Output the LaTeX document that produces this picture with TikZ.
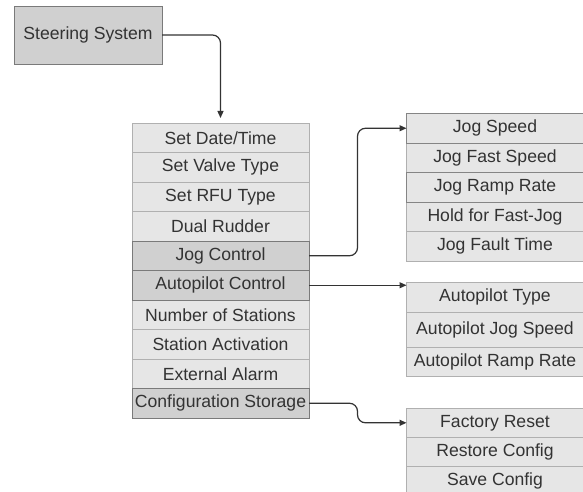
\documentclass[tikz,border=0pt]{standalone}
\usepackage{fontspec}
\setmainfont{Liberation Sans}
\usetikzlibrary{arrows.meta}
\definecolor{lightfill}{HTML}{E6E6E6}
\definecolor{darkfill}{HTML}{D0D0D0}
\definecolor{lightline}{HTML}{B0B0B0}
\definecolor{darkline}{HTML}{7A7A7A}
\definecolor{txt}{HTML}{333333}
\definecolor{arr}{HTML}{333333}
\begin{document}
\begin{tikzpicture}[x=1pt,y=-1pt,
  every node/.style={inner sep=0pt, outer sep=0pt, font=\fontsize{17.6}{20}\selectfont, text=txt},
  cell/.style={draw=lightline, fill=lightfill, line width=0.9pt, minimum width=177pt, minimum height=#1},
  cell/.default=29.5pt,
  darkcell/.style={cell=#1, draw=darkline, fill=darkfill},
  darkcell/.default=29.5pt,
  link/.style={draw=arr, line width=1.2pt, rounded corners=8pt, -{Triangle[length=7pt,width=6pt]}}
]
\useasboundingbox (0,0) rectangle (583,492);
\clip (0,0) rectangle (583,492);
\fill[white] (0,0) rectangle (583,492);

% top box
\node[darkcell=58pt, minimum width=148pt] (steer) at (88,35) {Steering System};

% main column
\node[cell] (m1) at (220.5,137.75) {Set Date/Time};
\node[cell] (m2) at (220.5,167.25) {Set Valve Type};
\node[cell] (m3) at (220.5,196.75) {Set RFU Type};
\node[cell] (m4) at (220.5,226.25) {Dual Rudder};
\node[cell] (m7) at (220.5,314.75) {Number of Stations};
\node[cell] (m8) at (220.5,344.25) {Station Activation};
\node[cell] (m9) at (220.5,373.75) {External Alarm};
\node[darkcell] (jc) at (220.5,255.75) {Jog Control};
\node[darkcell] (ac) at (220.5,285.25) {Autopilot Control};
\node[darkcell] (cs) at (220.5,403.25) {Configuration Storage};

% jog column
\node[cell] (j2) at (495,157.75) {Jog Fast Speed};
\node[cell] (j4) at (495,216.75) {Hold for Fast-Jog};
\node[cell] (j5) at (495,246.25) {Jog Fault Time};
\node[cell, draw=darkline!80!lightline] (j1) at (495,128.25) {Jog Speed};
\node[cell, draw=darkline!80!lightline] (j3) at (495,187.25) {Jog Ramp Rate};

% autopilot column
\node[cell=30pt] (ap1) at (495,297.3) {Autopilot Type};
\node[cell=35pt] (ap2) at (495,329.8) {Autopilot Jog Speed};
\node[cell=29.4pt] (ap3) at (495,362) {Autopilot Ramp Rate};

% configuration column
\node[cell=29pt] (f1) at (495,422.8) {Factory Reset};
\node[cell=29.4pt] (f2) at (495,452) {Restore Config};
\node[cell=29.4pt] (f3) at (495,481.4) {Save Config};

% connectors
\draw[link, shorten >=5pt] (steer.east) -| (m1.north);
\draw[link] (jc.east) -- ++(48.5,0) |- (j1.west);
\draw[link] (ac.east) -- (ac.east -| ap1.west);
\draw[link] (cs.east) -- ++(48.5,0) |- (f1.west);
\end{tikzpicture}
\end{document}
